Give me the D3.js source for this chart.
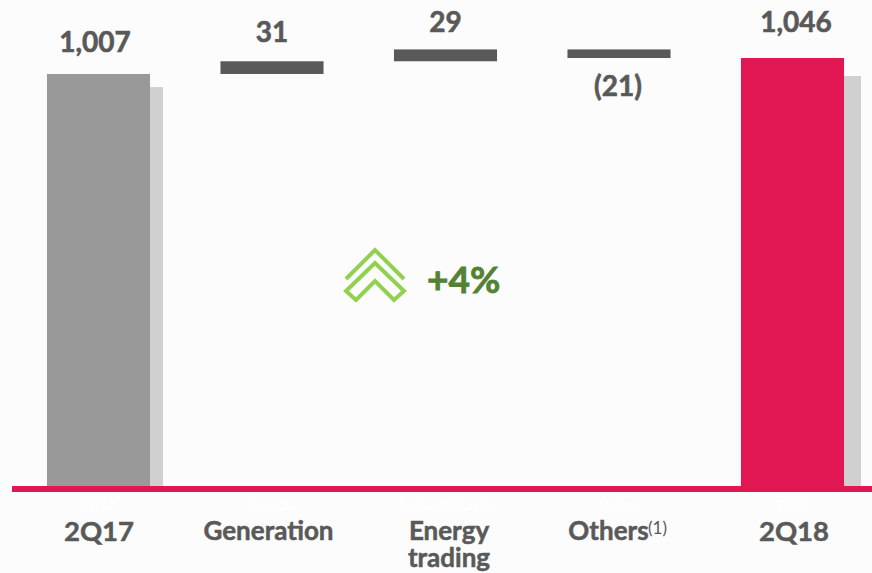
<!DOCTYPE html>
<html><head><meta charset="utf-8">
<script src="https://cdn.jsdelivr.net/npm/d3@7/dist/d3.min.js"></script>
<style>html,body{margin:0;padding:0;background:#fcfcfc}svg{display:block}text{font-family:Lato,sans-serif;font-weight:700}</style>
</head><body><svg id="c" width="872" height="573"></svg>
<script>
const categories = ["2Q17","Generation","Energy trading","Others","2Q18"];
const ghostLabels = ["2Q17","Geração","Comercialização","Outros","2Q18"];
const starts = [0,1007,1038,1067,0];
const ends = [1007,1038,1067,1046,1046];
const valueLabels = ["1,007","31","29","(21)","1,046"];
const shadowValues = [975,null,null,null,1002];
const barColors = ["#999999","#595959","#595959","#595959","#e01753"];

const W=872,H=573,baseY=486;
const svg=d3.select("#c");
const x=d3.scaleBand().domain(categories).range([11.75,879.25]).paddingInner(.406).paddingOuter(.203);
const y=d3.scaleLinear().domain([0,1046]).range([baseY,58]);
const bw=x.bandwidth();

svg.append("rect").attr("width",W).attr("height",H).attr("fill","#fcfcfc");

// shadow bars
const shadowOffset=[13,17];
svg.selectAll("rect.s").data(categories.map((c,i)=>({c,v:shadowValues[i]})).filter(d=>d.v!=null)).join("rect")
 .attr("class","s").attr("x",d=>x(d.c)+bw).attr("width",(d,i)=>shadowOffset[i])
 .attr("y",d=>y(d.v)).attr("height",d=>baseY-y(d.v)).attr("fill","#d0d0d0");

// bars
svg.selectAll("rect.b").data(categories).join("rect").attr("class","b")
 .attr("x",d=>x(d)).attr("width",bw)
 .attr("y",(d,i)=>y(Math.max(starts[i],ends[i])))
 .attr("height",(d,i)=>Math.abs(y(starts[i])-y(ends[i])))
 .attr("fill",(d,i)=>barColors[i]);

// baseline
svg.append("rect").attr("x",12).attr("y",486).attr("width",W-12).attr("height",6).attr("fill","#e01753");

// value labels
const labelOffsets=[22,19,17,-38,26];
const labelShift=[-3.5,0,0,-1,3.5];
svg.selectAll("text.v").data(categories).join("text").attr("class","v")
 .attr("x",(d,i)=>x(d)+bw/2+labelShift[i])
 .attr("y",(d,i)=>y(i===3?ends[3]:Math.max(starts[i],ends[i]))-labelOffsets[i])
 .attr("text-anchor","middle").attr("font-size",28).attr("fill","#595959")
 .attr("stroke","#595959").attr("stroke-width",.6)
 .text((d,i)=>valueLabels[i]);

// faint ghost labels from the source slide
svg.selectAll("text.g").data(categories).join("text").attr("class","g")
 .attr("x",d=>x(d)+bw/2).attr("y",510)
 .attr("text-anchor","middle").attr("font-size",13).attr("fill","#ffffff")
 .text((d,i)=>ghostLabels[i]);

// category labels
const catX=[99,268.5,449,608.5,794];
const tick=svg.selectAll("text.t").data(categories).join("text").attr("class","t")
 .attr("y",(d,i)=>i===0||i===4?541:540)
 .attr("text-anchor","middle").attr("fill","#595959").attr("font-size",(d,i)=>i===0||i===4?27.5:26)
 .attr("stroke","#595959").attr("stroke-width",.5);
tick.each(function(d,i){
  const t=d3.select(this);
  if(d==="Energy trading"){
    t.append("tspan").attr("x",catX[i]).text("Energy");
    t.append("tspan").attr("x",catX[i]).attr("dy",27).text("trading");
  } else {
    t.attr("x",catX[i]).text(d);
  }
});
svg.append("text").attr("x",648).attr("y",534).attr("font-size",17).attr("fill","#595959")
 .style("font-weight",400).text("(1)");

// growth arrow
const line=d3.line();
const chevG=svg.append("g").attr("fill","none").attr("stroke","#92d050").attr("stroke-width",4).attr("stroke-linejoin","miter");
chevG.append("path").attr("d",line([[346,279],[375,250],[404,279]]));
chevG.append("path").attr("d",line([[375,263],[346,291],[356,300],[375,281],[394,300],[404,291]])+"Z");
svg.append("text").attr("x",427).attr("y",293).attr("font-size",37).attr("fill","#548235")
 .attr("stroke","#548235").attr("stroke-width",.8).text("+4%");
</script></body></html>
